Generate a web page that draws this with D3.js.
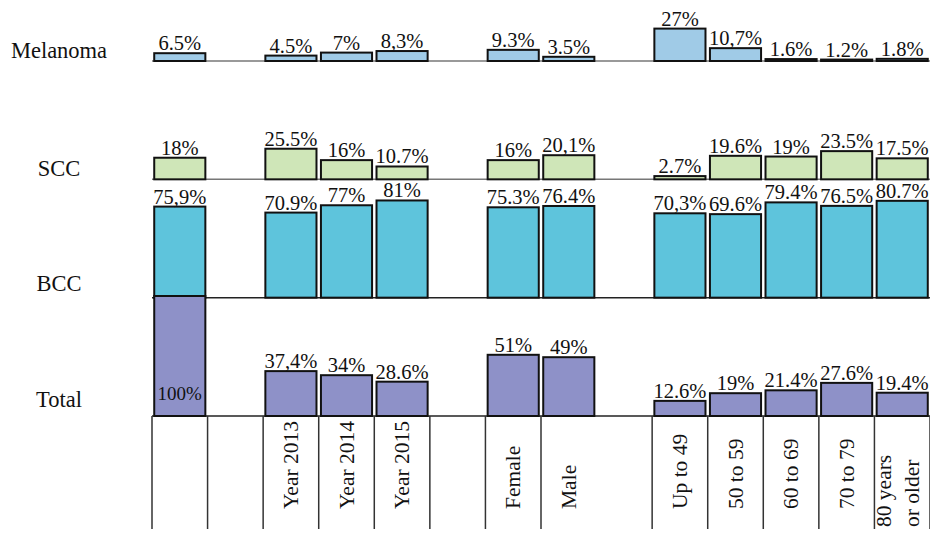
<!DOCTYPE html>
<html>
<head>
<meta charset="utf-8">
<script src="https://cdn.jsdelivr.net/npm/d3@7"></script>
<style>
  body { margin: 0; background: #fff; }
  text { font-family: "Liberation Serif", "DejaVu Serif", serif; fill: #111; }
</style>
</head>
<body>
<div id="chart"></div>
<script>
// columns of the table, blanks are spacer columns
const columns = ["All", "gap1", "Year 2013", "Year 2014", "Year 2015", "gap2",
  "Female", "Male", "gap3", "Up to 49", "50 to 59", "60 to 69", "70 to 79", "80 years or older"];
const columnLabels = [[], [], ["Year 2013"], ["Year 2014"], ["Year 2015"], [],
  ["Female"], ["Male"], [], ["Up to 49"], ["50 to 59"], ["60 to 69"], ["70 to 79"], ["80 years", "or older"]];

const rows = ["Melanoma", "SCC", "BCC", "Total"];

const melanoma = [6.5, null, 4.5, 7, 8.3, null, 9.3, 3.5, null, 27, 10.7, 1.6, 1.2, 1.8];
const scc = [18, null, 25.5, 16, 10.7, null, 16, 20.1, null, 2.7, 19.6, 19, 23.5, 17.5];
const bcc = [75.9, null, 70.9, 77, 81, null, 75.3, 76.4, null, 70.3, 69.6, 79.4, 76.5, 80.7];
const total = [100, null, 37.4, 34, 28.6, null, 51, 49, null, 12.6, 19, 21.4, 27.6, 19.4];

// labels printed with a decimal comma in the original
const commaCells = ["Melanoma|Year 2015", "Melanoma|50 to 59", "SCC|Male",
  "BCC|All", "BCC|Up to 49", "Total|Year 2013"];

const colors = { Melanoma: "#a0cbe7", SCC: "#cfe6b8", BCC: "#5ec4dc", Total: "#8e91c8" };
// how far each row name sits above its baseline
const rowLabelLift = { Melanoma: 3, SCC: 3, BCC: 7, Total: 9 };

const series = { Melanoma: melanoma, SCC: scc, BCC: bcc, Total: total };
const data = [];
rows.forEach(r => {
  series[r].forEach((v, i) => {
    if (v != null) data.push({ row: r, col: columns[i], value: v });
  });
});

const width = 930, height = 533;
const svg = d3.select("#chart").append("svg")
  .attr("width", width)
  .attr("height", height);

const x = d3.scaleBand().domain(columns).range([152, 930])
  .paddingInner(0.08).paddingOuter(0.04);
const rowY = d3.scalePoint().domain(rows).range([61, 416]);
const h = d3.scaleLinear().domain([0, 100]).range([0, 120]);

const x0 = x.range()[0], x1 = x.range()[1];
const half = (x.step() - x.bandwidth()) / 2;

// baselines
svg.append("g").selectAll("line")
  .data(rows)
  .join("line")
  .attr("x1", x0).attr("x2", x1)
  .attr("y1", d => rowY(d)).attr("y2", d => rowY(d))
  .attr("stroke", d => (d === "Melanoma" || d === "SCC") ? "#777" : "#222")
  .attr("stroke-width", 1.5);

// row labels
svg.append("g").selectAll("text")
  .data(rows)
  .join("text")
  .attr("x", 59)
  .attr("y", d => rowY(d) - rowLabelLift[d])
  .attr("text-anchor", "middle")
  .style("font-size", "22.5px")
  .text(d => d);

// bars
svg.append("g").selectAll("rect")
  .data(data)
  .join("rect")
  .attr("x", d => x(d.col))
  .attr("width", x.bandwidth())
  .attr("y", d => rowY(d.row) - h(d.value))
  .attr("height", d => h(d.value))
  .attr("fill", d => colors[d.row])
  .attr("stroke", "#111")
  .attr("stroke-width", 2);

// value labels
const fmt = d => {
  let s = d.value + "%";
  if (commaCells.includes(d.row + "|" + d.col)) s = s.replace(".", ",");
  return s;
};
svg.append("g").selectAll("text")
  .data(data)
  .join("text")
  .attr("x", d => x(d.col) + x.bandwidth() / 2)
  .attr("y", d => d.value >= 100 ? rowY(d.row) - 16 : rowY(d.row) - h(d.value) - 3)
  .attr("text-anchor", "middle")
  .style("font-size", d => d.value >= 100 ? "19px" : "20.5px")
  .text(fmt);

// table below the bars
const tableTop = rowY("Total"), tableBottom = 529;
const rules = columns.filter(c => c !== "gap3").map(c => x(c) - half).concat([x1]);
svg.append("g").selectAll("line")
  .data(rules)
  .join("line")
  .attr("x1", d => d).attr("x2", d => d)
  .attr("y1", tableTop).attr("y2", tableBottom)
  .attr("stroke", "#333")
  .attr("stroke-width", 1.5);

const catG = svg.append("g").selectAll("g")
  .data(columns.map((c, i) => ({ col: c, lines: columnLabels[i] })).filter(d => d.lines.length))
  .join("g")
  .attr("transform", d => {
    const cx = x(d.col) + x.bandwidth() / 2;
    const yb = d.lines.length > 1 ? 527 : 509;
    return `translate(${cx},${yb}) rotate(-90)`;
  });

catG.selectAll("text")
  .data(d => d.lines.map((t, j) => ({ t, j, n: d.lines.length })))
  .join("text")
  .attr("x", 0)
  .attr("y", d => d.n > 1 ? (d.j === 0 ? -11 : 17) : 7)
  .style("font-size", "21.5px")
  .text(d => d.t);
</script>
</body>
</html>
